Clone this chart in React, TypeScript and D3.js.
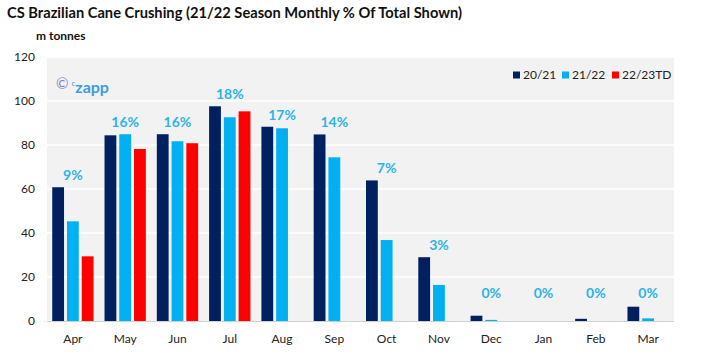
import React, { useEffect, useRef } from "react";
import * as d3 from "d3";

const months = ["Apr", "May", "Jun", "Jul", "Aug", "Sep", "Oct", "Nov", "Dec", "Jan", "Feb", "Mar"];
const seriesNames = ["20/21", "21/22", "22/23TD"];
const s2021 = [60.8, 84.4, 84.9, 97.6, 88.3, 84.8, 63.9, 29, 2.4, 0, 1.0, 6.5];
const s2122 = [45.3, 84.9, 81.7, 92.6, 87.6, 74.4, 36.8, 16.4, 0.5, 0, 0, 1.2];
const s2223 = [29.4, 78.2, 80.8, 95.3, null, null, null, null, null, null, null, null];
const pctLabels = ["9%", "16%", "16%", "18%", "17%", "14%", "7%", "3%", "0%", "0%", "0%", "0%"];
const yTicks = [0, 20, 40, 60, 80, 100, 120];

const colors = ["#002060", "#00b0f0", "#ff0000"];
const FONT = "Lato, 'Open Sans', sans-serif";

const App = () => {
  const ref: any = useRef(null);
  const width = 701;
  const height = 359;
  const margin = { top: 57, right: 27, bottom: 38, left: 47 };

  useEffect(() => {
    document.body.style.margin = "0";
    const el = d3.select(ref.current);
    el.selectAll("*").remove();

    const svg = el
      .append("svg")
      .attr("width", width)
      .attr("height", height)
      .style("display", "block")
      .style("font-family", FONT);

    svg.append("rect").attr("width", width).attr("height", height).attr("fill", "#fff");

    const plotW = width - margin.left - margin.right;
    const plotH = height - margin.top - margin.bottom;

    const x0 = d3
      .scaleBand()
      .domain(months)
      .range([margin.left, margin.left + plotW])
      .paddingInner(0.21)
      .paddingOuter(0.1);
    const x1 = d3.scaleBand().domain(seriesNames).range([0, x0.bandwidth()]).paddingInner(0.2);
    const y = d3.scaleLinear().domain([0, 120]).range([margin.top + plotH, margin.top]);

    // plot background
    svg
      .append("rect")
      .attr("x", margin.left)
      .attr("y", margin.top)
      .attr("width", plotW)
      .attr("height", plotH)
      .attr("fill", "#f2f2f2");

    // gridlines
    svg
      .append("g")
      .selectAll("line")
      .data(yTicks.filter((t) => t > 0))
      .join("line")
      .attr("x1", margin.left)
      .attr("x2", margin.left + plotW)
      .attr("y1", (d) => y(d))
      .attr("y2", (d) => y(d))
      .attr("stroke", "#fff")
      .attr("stroke-width", 1.5);

    // y tick labels
    svg
      .append("g")
      .selectAll("text")
      .data(yTicks)
      .join("text")
      .attr("x", 35)
      .attr("y", (d) => y(d))
      .attr("dy", "0.35em")
      .attr("text-anchor", "end")
      .attr("font-size", 12)
      .attr("fill", "#222")
      .text((d) => d);

    // bars
    const all = [s2021, s2122, s2223];
    const groups = svg
      .append("g")
      .selectAll("g")
      .data(months)
      .join("g")
      .attr("transform", (d) => `translate(${x0(d)},0)`);

    groups
      .selectAll("rect")
      .data((_, i) =>
        seriesNames.map((s, k) => ({ s, k, v: all[k][i] })).filter((d) => d.v !== null && d.v > 0)
      )
      .join("rect")
      .attr("x", (d: any) => x1(d.s) || 0)
      .attr("width", x1.bandwidth())
      .attr("y", (d: any) => y(d.v))
      .attr("height", (d: any) => y(0) - y(d.v))
      .attr("fill", (d: any) => colors[d.k]);

    // x axis line
    svg
      .append("line")
      .attr("x1", margin.left)
      .attr("x2", margin.left + plotW)
      .attr("y1", y(0) + 0.5)
      .attr("y2", y(0) + 0.5)
      .attr("stroke", "#d0d0d0");

    // x labels
    svg
      .append("g")
      .selectAll("text")
      .data(months)
      .join("text")
      .attr("x", (d) => (x0(d) || 0) + x0.bandwidth() / 2)
      .attr("y", 339)
      .attr("dy", "0.35em")
      .attr("text-anchor", "middle")
      .attr("font-size", 12)
      .attr("fill", "#222")
      .text((d) => d);

    // % of total labels
    svg
      .append("g")
      .selectAll("text")
      .data(pctLabels)
      .join("text")
      .attr("x", (_, i) => (x0(months[i]) || 0) + x0.bandwidth() / 2)
      .attr("y", (_, i) => {
        const mx = d3.max(all.map((s) => s[i] || 0)) || 0;
        return Math.min(y(mx) - 12, y(0) - 28);
      })
      .attr("dy", "0.35em")
      .attr("text-anchor", "middle")
      .attr("font-size", 14)
      .attr("font-weight", "bold")
      .attr("fill", "#2db3e8")
      .text((d) => d);

    // legend
    const legendX = [513, 562, 612];
    const lg = svg
      .append("g")
      .selectAll("g")
      .data(seriesNames)
      .join("g")
      .attr("transform", (_, i) => `translate(${legendX[i]},75)`);
    lg.append("rect")
      .attr("x", 0)
      .attr("y", -3.5)
      .attr("width", 7)
      .attr("height", 7)
      .attr("fill", (_, i) => colors[i]);
    lg.append("text")
      .attr("x", 10)
      .attr("dy", "0.35em")
      .attr("font-size", 12)
      .attr("fill", "#222")
      .text((d) => d);

    // watermark
    const wm = svg.append("text").attr("x", 56).attr("y", 84).attr("dy", "0.35em").attr("font-size", 15);
    wm.append("tspan").attr("fill", "#7e80c2").text("©");
    wm.append("tspan").attr("dx", 3).attr("fill", "#3b9ee0").attr("font-size", 8).attr("dy", "-0.45em").text("c");
    wm.append("tspan").attr("fill", "#3b9ee0").attr("font-weight", "bold").attr("font-size", 16).attr("dy", "0.45em").text("zapp");

    // title and unit
    svg
      .append("text")
      .attr("x", 7)
      .attr("y", 13)
      .attr("dy", "0.35em")
      .attr("font-size", 15.5)
      .attr("font-weight", "bold")
      .attr("fill", "#111")
      .attr("textLength", 455)
      .attr("lengthAdjust", "spacingAndGlyphs")
      .text("CS Brazilian Cane Crushing (21/22 Season Monthly % Of Total Shown)");
    svg
      .append("text")
      .attr("x", 36)
      .attr("y", 36)
      .attr("dy", "0.35em")
      .attr("font-size", 12)
      .attr("font-weight", "bold")
      .attr("fill", "#111")
      .text("m tonnes");
  }, []);

  return <div id="chart" ref={ref}></div>;
};

export default App;
